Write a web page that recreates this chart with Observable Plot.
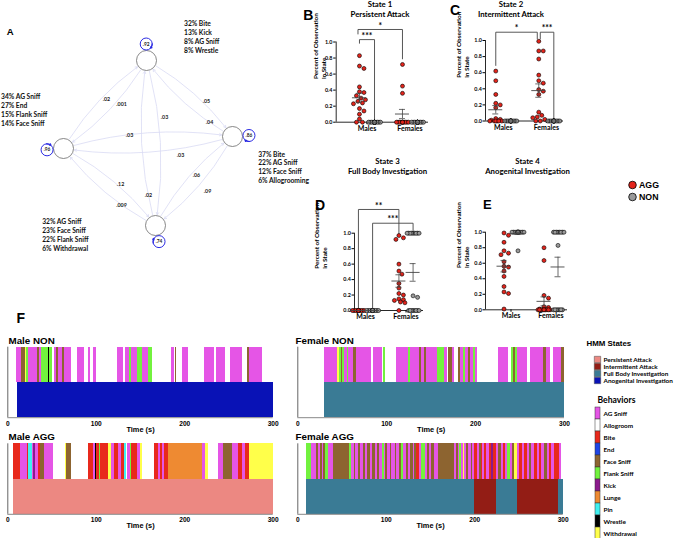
<!DOCTYPE html>
<html><head><meta charset="utf-8">
<script src="https://cdn.jsdelivr.net/npm/d3@7"></script>
<script src="https://cdn.jsdelivr.net/npm/@observablehq/plot@0.6"></script>
<style>
body{margin:0;background:#fff;}
#fig{position:relative;width:682px;height:538px;overflow:hidden;background:#fff;}
.abs{position:absolute;}
.abs svg{overflow:visible;}
.lbl{position:absolute;white-space:nowrap;color:#000;}
</style></head><body><div id="fig"></div>
<script>
// ================= DATA =================
const groups = ["Males", "Females"];
const conditions = ["AGG", "NON"];
const conditionColors = ["#e3241b", "#9a9a9a"];

// Panel B – State 1 Persistent Attack
const s1MalesAgg = [0.83,0.70,0.67,0.44,0.38,0.37,0.33,0.30,0.28,0.26,0.24,0.23,0.17,0.14,0.10,0.04,0,0];
const s1MalesNon = [0,0,0,0,0,0,0,0,0,0,0,0,0,0,0];
const s1FemalesAgg = [0.72,0.45,0.36,0,0,0,0,0,0,0,0,0,0,0,0];
const s1FemalesNon = [0,0,0,0,0,0,0,0,0,0,0,0,0,0,0];
// Panel C – State 2 Intermittent Attack
const s2MalesAgg = [0.62,0.50,0.33,0.22,0.20,0.165,0.03,0.02,0.01,0,0,0,0,0,0];
const s2MalesNon = [0,0,0,0,0,0,0,0,0,0,0,0,0,0,0];
const s2FemalesAgg = [0.99,0.87,0.87,0.77,0.57,0.50,0.47,0.39,0.37,0.33,0.11,0.07,0.05,0.04,0.02,0,0];
const s2FemalesNon = [0,0,0,0,0,0,0,0,0,0,0,0,0,0,0];
// Panel D – State 3 Full Body Investigation
const s3MalesAgg = [0,0,0,0,0,0,0,0,0,0,0,0,0,0];
const s3MalesNon = [0,0,0,0,0,0,0,0,0,0,0,0,0,0,0];
const s3FemalesAgg = [0.97,0.94,0.92,0.60,0.51,0.47,0.35,0.29,0.22,0.20,0.15,0.14,0.13,0.11,0.10,0];
const s3FemalesNon = [1,1,1,1,1,1,1,1,1,0.19,0.17,0,0,0,0,0,0,0,0];
// Panel E – State 4 Anogenital Investigation
const s4MalesAgg = [0.99,0.96,0.87,0.76,0.73,0.71,0.62,0.56,0.55,0.50,0.43,0.30,0.23,0.21,0.01];
const s4MalesNon = [1,1,1,1,1,1,1,1,1,1,1,1,1,1,1,0.76];
const s4FemalesAgg = [0.80,0.635,0.185,0.15,0.04,0.03,0.01,0,0,0,0,0,0,0,0,0,0];
const s4FemalesNon = [1,1,1,1,1,1,1,1,0.83,0,0,0,0,0,0,0];

const yTicks = [0, 0.2, 0.4, 0.6, 0.8, 1.0];
const stateTitles = [["State 1","Persistent Attack"],["State 2","Intermittent Attack"],["State 3","Full Body Investigation"],["State 4","Anogenital Investigation"]];

// HMM states & behaviours
const hmmStates = ["Persistent Attack","Intermittent Attack","Full Body Investigation","Anogenital Investigation"];
const hmmCodes = ["PA","IA","FB","AN"];
const hmmColors = ["#ec8882","#931d15","#3a7b95","#0912b6"];
const behaviors = ["AG Sniff","Allogroom","Bite","End","Face Sniff","Flank Sniff","Kick","Lunge","Pin","Wrestle","Withdrawal"];
const behaviorCodes = ["AG","AL","BI","EN","FA","FL","KI","LU","PI","WR","WI"];
const behaviorColors = ["#e555e6","#ffffff","#e8291c","#1f45e5","#8d6430","#72f23e","#8b1a8c","#ee8a32","#40f0f0","#000000","#ffff4a"];

// Network (panel A)
const netSelfProb = [0.92, 0.86, 0.74, 0.96];
const netComposition = [
  ["32% Bite","13% Kick","8% AG Sniff","8% Wrestle"],
  ["37% Bite","22% AG Sniff","12% Face Sniff","6% Allogrooming"],
  ["32% AG Sniff","23% Face Sniff","22% Flank Sniff","6% Withdrawal"],
  ["34% AG Sniff","27% End","15% Flank Sniff","14% Face Sniff"]];
const netEdgeFrom = [3,0,0,1,0,2,3,1,2,1,3,2];
const netEdgeTo   = [0,3,1,0,2,0,1,3,1,2,2,3];
const netEdgeProb = [0.02,0.001,0.05,0.04,0.03,0.02,0.03,0.03,0.06,0.09,0.12,0.009];

// Timelines (panel F): [start s, end s, code]
const maleNonBehaviors = [[10,16,"AG"],[16,20,"FA"],[20,21.5,"WI"],[21.5,23,"FL"],[23,34,"AG"],[34,36,"FA"],[36,38,"AG"],[38,45.6,"FL"],[45.6,47.1,"WR"],[47.1,50,"FL"],[52.8,54.7,"AG"],[54.7,57.7,"FA"],[57.7,61.5,"AG"],[61.5,63.7,"FA"],[63.7,71.6,"AG"],[78.4,86.3,"AG"],[90.8,93.9,"AG"],[96.5,100.3,"AG"],[124.4,130.8,"AG"],[133,137.6,"AG"],[137.6,139.8,"FL"],[139.8,146.2,"AG"],[146.2,152.6,"FL"],[152.6,158.7,"AG"],[158.7,163.6,"FL"],[185,188.8,"AG"],[189.6,191.1,"FA"],[197.8,204.6,"AG"],[222.7,234,"AG"],[235.9,246.1,"AG"],[252.1,265.7,"AG"],[270.9,273.2,"FA"],[273.2,287.5,"AG"]];
const maleNonStates = [[10.6,300,"AN"]];
const maleAggBehaviors = [[7,14.4,"BI"],[14.4,21.9,"AG"],[21.9,23.8,"BI"],[23.8,27.5,"PI"],[27.5,29.4,"AG"],[29.4,31.3,"KI"],[31.3,35.1,"AG"],[35.1,37,"BI"],[37,41.9,"FA"],[41.9,52,"AG"],[65.2,66.4,"WI"],[66.4,72,"FA"],[90.8,97.2,"BI"],[97.2,99.1,"AG"],[99.1,100.6,"WR"],[100.6,103.7,"BI"],[103.7,104.8,"FL"],[104.8,114.2,"BI"],[114.2,117.2,"WI"],[117.2,121,"AG"],[121,125.5,"BI"],[125.5,128.5,"AG"],[128.5,132.3,"BI"],[132.3,133.8,"PI"],[135.3,138.3,"AG"],[138.3,139.8,"FL"],[139.8,146.2,"BI"],[146.2,150,"AG"],[150,151.9,"WI"],[166.2,170.7,"BI"],[170.7,172.6,"AG"],[172.6,174.5,"BI"],[174.5,177.5,"AG"],[177.5,181.3,"BI"],[181.3,219.7,"LU"],[219.7,223.5,"AG"],[223.5,227.2,"WI"],[238.5,244.2,"AG"],[244.2,253.6,"FA"],[253.6,261.1,"AG"],[261.1,264.9,"BI"],[264.9,268.7,"AG"],[268.7,273.6,"BI"],[273.6,300,"WI"]];
const maleAggStates = [[7,300,"PA"]];
const femaleNonBehaviors = [[30.4,44.3,"AG"],[44.3,46.9,"WI"],[46.9,49.2,"FL"],[49.2,50.7,"FA"],[50.7,52.9,"FL"],[52.9,55.5,"AG"],[55.5,57.4,"FL"],[57.4,63,"AG"],[63,66,"FA"],[66,82.9,"AG"],[85.5,95.6,"AG"],[96.8,98.7,"FL"],[111,124.9,"AG"],[124.9,126.8,"FL"],[126.8,136.9,"AG"],[136.9,139.1,"FA"],[139.1,142.9,"AG"],[142.9,144.4,"FA"],[144.4,156.8,"AG"],[156.8,165,"FL"],[165,168,"AG"],[169.9,173.6,"FA"],[173.6,176.6,"AG"],[180.4,183,"FA"],[183,186.8,"AG"],[186.8,188.6,"FL"],[188.6,191.6,"AG"],[191.6,194.3,"FA"],[194.3,198,"AG"],[198,199.9,"FL"],[199.9,201.8,"AG"],[225.4,237.4,"AG"],[240.4,243,"FL"],[243,244.9,"FA"],[244.9,246.8,"FL"],[246.8,258,"AG"],[261.8,276.8,"AG"],[276.8,279.4,"FA"],[279.4,284.3,"AG"],[288,296.3,"AG"],[296.3,300,"FA"]];
const femaleNonStates = [[30.4,300,"FB"]];
const femaleAggBehaviors = [[9.8,15.4,"FL"],[15.4,20.7,"AG"],[20.7,22.9,"FA"],[22.9,25.5,"AG"],[25.5,27.4,"FA"],[27.4,29.3,"AG"],[29.3,31.5,"FA"],[31.5,34.9,"FL"],[34.9,39.8,"AG"],[39.8,58.5,"FA"],[58.5,60.4,"FL"],[60.4,64.2,"AG"],[64.2,65.7,"FA"],[65.7,68.7,"AG"],[68.7,70.5,"FA"],[70.5,74.3,"AG"],[74.3,76.2,"FA"],[76.2,79.2,"AG"],[79.2,81.8,"FA"],[81.8,84.4,"AG"],[84.4,87.4,"FA"],[87.4,90.4,"AG"],[90.4,91.9,"FA"],[91.9,95.7,"AG"],[95.7,97.9,"FL"],[97.9,99.4,"AG"],[99.4,101.7,"FA"],[101.7,104.3,"AG"],[104.3,106.2,"FA"],[106.2,109.9,"AG"],[109.9,111.8,"FA"],[111.8,114.4,"AG"],[114.4,117.4,"FA"],[117.4,119.3,"FL"],[119.3,123,"AG"],[123,124.9,"FA"],[124.9,127.9,"AG"],[127.9,130.5,"FA"],[130.5,132.4,"AG"],[132.4,134.3,"FA"],[134.3,138,"BI"],[138,139.9,"AG"],[139.9,144.4,"FL"],[144.4,146.7,"AG"],[146.7,149.3,"FA"],[149.3,151.2,"AG"],[151.2,154.2,"FA"],[154.2,158.7,"AG"],[158.7,176.6,"FA"],[176.6,179.3,"AG"],[179.3,181.2,"FA"],[181.2,183,"AG"],[183,184.9,"FL"],[184.9,186.8,"AG"],[186.8,188.7,"WI"],[188.7,190.5,"AG"],[190.5,192.4,"FA"],[192.4,196.2,"AG"],[196.2,198,"FA"],[198,199.9,"AG"],[199.9,202.9,"BI"],[202.9,205.5,"AG"],[205.5,207.4,"FA"],[207.4,209.3,"BI"],[209.3,211.2,"AG"],[211.2,213,"BI"],[213,216.8,"AG"],[216.8,218.7,"BI"],[218.7,221.7,"KI"],[221.7,224.3,"BI"],[224.3,226.9,"AG"],[226.9,229.9,"FA"],[229.9,232.9,"AG"],[232.9,234.8,"BI"],[234.8,237.4,"AG"],[237.4,240.4,"FL"],[240.4,243,"AG"],[243,244.9,"FA"],[244.9,247.9,"WI"],[247.9,250.5,"AG"],[250.5,253.5,"BI"],[253.5,256.2,"AG"],[256.2,259.2,"BI"],[259.2,261.8,"AG"],[261.8,264.4,"FA"],[264.4,267.4,"AG"],[267.4,270.4,"BI"],[270.4,273,"AG"],[273,275.7,"BI"],[275.7,278.7,"AG"],[278.7,281.7,"FA"],[281.7,284.3,"AG"],[284.3,286.9,"BI"],[286.9,289.9,"AG"],[289.9,295.5,"BI"],[295.5,298.5,"AG"]];
const femaleAggStates = [[9.8,200,"FB"],[200,224.3,"IA"],[224.3,247.9,"FB"],[247.9,294.7,"IA"],[294.7,300,"FB"]];
const timeTicks = [0, 100, 200, 300];

// ================= LAYOUT / HELPERS =================
const fig = document.getElementById("fig");
const LATO = "Lato, 'Open Sans', sans-serif";
const ARIAL = "'Liberation Sans', Arial, sans-serif";
function place(node, left, top) {
  const d = document.createElement("div");
  d.className = "abs"; d.style.left = left + "px"; d.style.top = top + "px";
  d.appendChild(node); fig.appendChild(d); return d;
}
function htmlText(txt, left, top, css) {
  const d = document.createElement("div");
  d.className = "lbl"; d.textContent = txt;
  d.style.left = left + "px"; d.style.top = top + "px";
  Object.assign(d.style, css); fig.appendChild(d); return d;
}
const nameOf = {};
behaviorCodes.forEach((c, i) => nameOf[c] = behaviors[i]);
hmmCodes.forEach((c, i) => nameOf[c] = hmmStates[i]);
const fmtP = p => String(p).replace(/^0/, "");

// ---------- Panel A: network ----------
(function () {
  const node = [[146,60],[232,136],[155,225],[63,148]];
  const loopAngle = [-91, -3.5, 77.6, 175.4];
  const loopDist = 16.5, loopR = 6;
  const textAt = [[183.5,22.7],[257.7,153],[41.7,220.7],[0.5,95.7]];
  const labelT = [0.538,0.406,0.627,0.231,0.350,0.184,0.394,0.314,0.549,0.492,0.557,0.324];
  const labelOff = [-2.3,-12.0,-9.0,-4.7,-14.9,-5.4,-8.3,-15.3,-1.7,-17.1,-9.0,-6.5];
  const rad = a => a * Math.PI / 180;
  const loopC = i => [node[i][0] + loopDist * Math.cos(rad(loopAngle[i])), node[i][1] + loopDist * Math.sin(rad(loopAngle[i]))];
  const headAng = i => loopAngle[i] + 180 - 45;
  const loopPt = (i, a) => [loopC(i)[0] + loopR * Math.cos(rad(a)), loopC(i)[1] + loopR * Math.sin(rad(a))];
  const lab = j => {
    const A = node[netEdgeFrom[j]], B = node[netEdgeTo[j]];
    const dx = B[0] - A[0], dy = B[1] - A[1], L = Math.hypot(dx, dy);
    return [A[0] + labelT[j] * dx + labelOff[j] * (-dy / L), A[1] + labelT[j] * dy + labelOff[j] * (dx / L)];
  };
  const E = d3.range(netEdgeProb.length), N = d3.range(4);
  const svg = Plot.plot({
    width: 330, height: 300, marginTop: 0, marginRight: 0, marginBottom: 0, marginLeft: 0,
    x: {domain: [0, 330], range: [0, 330], axis: null},
    y: {domain: [0, 300], range: [0, 300], axis: null},
    style: {background: "transparent", fontFamily: LATO, fontWeight: "bold", overflow: "visible"},
    marks: [
      Plot.arrow(E, {x1: j => node[netEdgeFrom[j]][0], y1: j => node[netEdgeFrom[j]][1],
        x2: j => node[netEdgeTo[j]][0], y2: j => node[netEdgeTo[j]][1],
        bend: 13, insetStart: 11, insetEnd: 11, headLength: 4.5, stroke: "#d9dbf4", strokeWidth: 0.8}),
      Plot.dot(N, {x: i => node[i][0], y: i => node[i][1], r: 10, fill: "white", stroke: "#6a6a6a", strokeWidth: 0.8}),
      Plot.dot(N, {x: i => loopC(i)[0], y: i => loopC(i)[1], r: loopR, fill: "none", stroke: "#2b2be3", strokeWidth: 1}),
      Plot.arrow(N, {x1: i => loopPt(i, headAng(i) - 45)[0], y1: i => loopPt(i, headAng(i) - 45)[1],
        x2: i => loopPt(i, headAng(i))[0], y2: i => loopPt(i, headAng(i))[1], bend: 20, headLength: 3.5, stroke: "#2b2be3", strokeWidth: 1.2}),
      Plot.text(N, {x: i => loopC(i)[0], y: i => loopC(i)[1], text: i => fmtP(netSelfProb[i]), fontSize: 4.8, fill: "#222"}),
      Plot.text(E, {x: j => lab(j)[0], y: j => lab(j)[1], text: j => fmtP(netEdgeProb[j]), fontSize: 5.3, fill: "#222"}),
      Plot.text(N, {x: i => textAt[i][0], y: i => textAt[i][1], text: i => netComposition[i].join("\n"),
        textAnchor: "start", lineAnchor: "top", dy: -3.3, fontSize: 6.7, lineHeight: 1.33, fill: "#111"})
    ]
  });
  place(svg, 0, 0);
})();

// ---------- Dot panels B–E ----------
function spread(values, pxPerY) {
  const step = 1.5, maxOff = 6.5, minDist = 4.3;
  const order = d3.range(values.length).sort((a, b) => d3.descending(values[a], values[b]));
  const cands = [0];
  for (let k = 1; k * step <= maxOff + 1e-9; k++) cands.push(k * step, -k * step);
  const placed = [], off = [];
  for (const i of order) {
    const y = values[i] * pxPerY;
    let chosen = cands.find(c => placed.every(p => Math.hypot(p.x - c, p.y - y) >= minDist));
    if (chosen === undefined) chosen = d3.greatest(cands, c => d3.min(placed, p => Math.hypot(p.x - c, p.y - y)));
    placed.push({x: chosen, y}); off[i] = chosen;
  }
  return off;
}

function dotPanel(cfg) {
  const {left, top, width, height, mt, mb, ml, mr, xdom, cols, brackets, ylabDx} = cfg;
  const fw = width - ml - mr, fh = height - mt - mb;
  const unit = fw / (xdom[1] - xdom[0]);
  const condOff = 0.175;
  const colX = (g, c) => (groups.indexOf(g) + 1) + (c === "AGG" ? -condOff : condOff);
  const pts = [], stats = [];
  for (const col of cols) {
    const cx = colX(col.g, col.c);
    const off = spread(col.v, fh);
    col.v.forEach((v, i) => pts.push({x: cx + off[i] / unit, y: v, c: col.c}));
    const m = d3.mean(col.v);
    const s = d3.deviation(col.v) / Math.sqrt(col.v.length) || 0;
    stats.push({x: cx, mean: m, lo: Math.max(0, m - s), hi: m + s, c: col.c});
  }
  const semStats = stats.filter(s => s.hi - s.lo > 0.005);
  const meanW = 7 / unit, capW = 3 / unit;
  const bpath = [], blab = [];
  brackets.forEach((b, k) => {
    const xa = colX(b.a[0], b.a[1]) + (b.ia || 0) / unit;
    const xb = colX(b.b[0], b.b[1]) - (b.ib || 0) / unit;
    bpath.push({k, x: xa, y: b.ya}, {k, x: xa, y: b.y}, {k, x: xb, y: b.y}, {k, x: xb, y: b.yb});
    blab.push({x: (xa + xb) / 2, y: b.y, t: b.label});
  });
  const svg = Plot.plot({
    width, height, marginTop: mt, marginBottom: mb, marginLeft: ml, marginRight: mr,
    x: {domain: xdom}, y: {domain: [0, 1]},
    style: {background: "transparent", fontFamily: LATO, fontWeight: "bold", overflow: "visible", color: "#000"},
    marks: [
      Plot.ruleX([xdom[0]], {stroke: "#111", strokeWidth: 0.9}),
      Plot.ruleY([0], {stroke: "#111", strokeWidth: 0.9}),
      Plot.axisY({ticks: yTicks, tickFormat: d3.format(".1f"), tickSize: 2.5, tickPadding: 1.2, fontSize: 5.4, label: null}),
      Plot.axisX({ticks: [1, 2], tickFormat: d => groups[d - 1], tickSize: 2.5, tickPadding: 1.2, fontSize: 7, label: null}),
      Plot.text(["Percent of Observation\nin State"], {frameAnchor: "left", rotate: -90, dx: ylabDx, dy: -3, fontSize: 6.4, lineHeight: 1.25}),
      Plot.line(bpath, {x: "x", y: "y", z: "k", stroke: "#444", strokeWidth: 0.9}),
      Plot.text(blab, {x: "x", y: "y", text: "t", dy: -3.5, fontSize: 8.5}),
      Plot.dot(pts, {x: "x", y: "y", r: 2.0, fill: d => conditionColors[conditions.indexOf(d.c)], stroke: "#000", strokeWidth: 0.6}),
      Plot.ruleY(stats, {y: "mean", x1: d => d.x - meanW, x2: d => d.x + meanW, stroke: "#444", strokeWidth: 0.9}),
      Plot.ruleX(semStats, {x: "x", y1: "lo", y2: "hi", stroke: "#444", strokeWidth: 0.8}),
      Plot.ruleY(semStats, {y: "lo", x1: d => d.x - capW, x2: d => d.x + capW, stroke: "#444", strokeWidth: 0.8}),
      Plot.ruleY(semStats, {y: "hi", x1: d => d.x - capW, x2: d => d.x + capW, stroke: "#444", strokeWidth: 0.8})
    ]
  });
  place(svg, left, top);
}
const col = (g, c, v) => ({g, c, v});

dotPanel({left: 290, top: 0, width: 150, height: 135, mt: 41.5, mb: 13.3, ml: 45.7, mr: 12, xdom: [0.284, 2.43], ylabDx: -17,
  cols: [col("Males","AGG",s1MalesAgg), col("Males","NON",s1MalesNon), col("Females","AGG",s1FemalesAgg), col("Females","NON",s1FemalesNon)],
  brackets: [
    {a: ["Males","AGG"], b: ["Males","NON"], y: 1.03, ya: 0.985, yb: 0.03, label: "***"},
    {a: ["Males","AGG"], b: ["Females","AGG"], y: 1.156, ya: 1.10, yb: 0.79, ia: -1.5, label: "*"}]});
dotPanel({left: 440, top: 0, width: 135, height: 135, mt: 40, mb: 14.5, ml: 45, mr: 12, xdom: [0.586, 2.40], ylabDx: -23.5,
  cols: [col("Males","AGG",s2MalesAgg), col("Males","NON",s2MalesNon), col("Females","AGG",s2FemalesAgg), col("Females","NON",s2FemalesNon)],
  brackets: [
    {a: ["Males","AGG"], b: ["Females","AGG"], y: 1.103, ya: 0.69, yb: 1.02, ib: 1.5, label: "*"},
    {a: ["Females","AGG"], b: ["Females","NON"], y: 1.103, ya: 1.02, yb: 0.02, ia: 1.5, label: "***"}]});
dotPanel({left: 290, top: 175, width: 150, height: 148, mt: 57.7, mb: 13, ml: 64, mr: 17, xdom: [0.728, 2.432], ylabDx: -34,
  cols: [col("Males","AGG",s3MalesAgg), col("Males","NON",s3MalesNon), col("Females","AGG",s3FemalesAgg), col("Females","NON",s3FemalesNon)],
  brackets: [
    {a: ["Males","AGG"], b: ["Females","AGG"], y: 1.307, ya: 0.03, yb: 0.97, label: "**"},
    {a: ["Males","NON"], b: ["Females","NON"], y: 1.129, ya: 0.03, yb: 1.035, label: "***"}]});
dotPanel({left: 440, top: 175, width: 135, height: 148, mt: 56.7, mb: 13.7, ml: 45, mr: 8, xdom: [0.3625, 2.4125], ylabDx: -23.5,
  cols: [col("Males","AGG",s4MalesAgg), col("Males","NON",s4MalesNon), col("Females","AGG",s4FemalesAgg), col("Females","NON",s4FemalesNon)],
  brackets: []});

// Titles of B–E
const titleCenters = [[380, -1.5], [511, -1.5], [387.5, 156], [527.5, 156]];
stateTitles.forEach((t, i) => {
  htmlText(t[0] + "\n" + t[1], titleCenters[i][0] - 60, titleCenters[i][1],
    {width: "120px", textAlign: "center", fontFamily: LATO, fontWeight: "bold", fontSize: "7.8px", lineHeight: "10px", whiteSpace: "pre"});
});

// AGG / NON legend
(function () {
  const svg = Plot.plot({
    width: 60, height: 26.8, marginTop: 0, marginBottom: 0, marginLeft: 0, marginRight: 0,
    y: {type: "band", domain: conditions, axis: null},
    style: {background: "transparent", fontFamily: ARIAL, fontWeight: "bold", overflow: "visible"},
    marks: [
      Plot.dot(conditions, {y: d => d, frameAnchor: "left", dx: 12, r: 3.8, fill: d => conditionColors[conditions.indexOf(d)], stroke: "#000", strokeWidth: 0.8}),
      Plot.text(conditions, {y: d => d, frameAnchor: "left", dx: 18.5, textAnchor: "start", fontSize: 8.8, fill: "#000"})
    ]
  });
  place(svg, 620, 176.6);
})();

// ---------- Panel F: timelines ----------
const allNames = behaviors.concat(hmmStates);
const allColors = behaviorColors.concat(hmmColors);
const rows = ["State", "Behavior"];
function timeline(title, beh, states, left, top, height, mt, ml, mr, titleDx, titleDy) {
  const fh = 70.5;
  const svg = Plot.plot({
    width: 281, height, marginTop: mt, marginBottom: height - mt - fh, marginLeft: ml, marginRight: mr,
    x: {domain: [0, 300]}, y: {domain: [0, rows.length], axis: null},
    color: {type: "ordinal", domain: allNames, range: allColors},
    style: {background: "transparent", fontFamily: ARIAL, fontWeight: "bold", overflow: "visible", color: "#000"},
    marks: [
      Plot.rect(states, {x1: d => d[0], x2: d => d[1], y1: rows.indexOf("State"), y2: rows.indexOf("State") + 1, fill: d => nameOf[d[2]], shapeRendering: "crispEdges"}),
      Plot.rect(beh, {x1: d => d[0], x2: d => d[1], y1: rows.indexOf("Behavior"), y2: rows.indexOf("Behavior") + 1, fill: d => nameOf[d[2]], shapeRendering: "crispEdges"}),
      Plot.ruleX([0], {stroke: "#666", strokeWidth: 1}),
      Plot.ruleY([0], {stroke: "#888", strokeWidth: 1}),
      Plot.axisX({ticks: timeTicks, tickSize: 0, tickPadding: 3.5, fontSize: 6.6, label: null}),
      Plot.text(["Time (s)"], {frameAnchor: "bottom", lineAnchor: "middle", dy: 11.8, fontSize: 7.4}),
      Plot.text([title], {frameAnchor: "top-left", lineAnchor: "middle", dx: titleDx, dy: titleDy, textAnchor: "start", fontSize: 9.8})
    ]
  });
  place(svg, left, top);
}
timeline("Male NON", maleNonBehaviors, maleNonStates, 0, 335, 98, 11.7, 7.3, 8.3, 0.7, -6.5);
timeline("Male AGG", maleAggBehaviors, maleAggStates, 0, 431, 107, 12.3, 7.3, 8.3, 0.7, -7.3);
timeline("Female NON", femaleNonBehaviors, femaleNonStates, 290, 335, 98, 11.7, 7.3, 7, -2.3, -6.5);
timeline("Female AGG", femaleAggBehaviors, femaleAggStates, 290, 431, 107, 12.3, 7.3, 8.3, -2.3, -7.3);

// ---------- Legends for F ----------
(function () {
  const svg = Plot.plot({
    width: 102, height: 56, marginTop: 0, marginBottom: 0, marginLeft: 0, marginRight: 0,
    y: {type: "point", domain: hmmStates, range: [19.5, 48.7], axis: null},
    color: {type: "ordinal", domain: hmmStates, range: hmmColors},
    style: {background: "transparent", fontFamily: LATO, fontWeight: "bold", overflow: "visible"},
    marks: [
      Plot.text(["HMM States"], {frameAnchor: "top-left", lineAnchor: "middle", dx: 6, dy: 7.5, textAnchor: "start", fontSize: 7.9, fontFamily: ARIAL}),
      Plot.dot(hmmStates, {y: d => d, frameAnchor: "left", dx: 17, symbol: "square", r: 3.6, fill: d => d, stroke: "#444", strokeWidth: 0.5}),
      Plot.text(hmmStates, {y: d => d, frameAnchor: "left", dx: 23, textAnchor: "start", fontSize: 6.4})
    ]
  });
  place(svg, 580, 335);
})();
(function () {
  const svg = Plot.plot({
    width: 102, height: 143, marginTop: 10, marginBottom: 0, marginLeft: 0, marginRight: 0,
    x: {type: "band", domain: ["swatch"], range: [14.5, 20.3], axis: null, padding: 0},
    y: {type: "band", domain: behaviors, range: [10, 145], padding: 0, axis: null},
    color: {type: "ordinal", domain: behaviors, range: behaviorColors},
    style: {background: "transparent", fontFamily: LATO, fontWeight: "bold", overflow: "visible"},
    marks: [
      Plot.text(["Behaviors"], {frameAnchor: "top-left", lineAnchor: "middle", dx: 17, dy: -5, textAnchor: "start", fontSize: 8.6}),
      Plot.cell(behaviors, {x: () => "swatch", y: d => d, fill: d => d, stroke: "#333", strokeWidth: 0.5}),
      Plot.text(behaviors, {y: d => d, frameAnchor: "left", dx: 23, textAnchor: "start", fontSize: 6.4})
    ]
  });
  place(svg, 580, 395);
})();

// Panel letters
const letters = [["A", 6.7, 26.8, 9.5], ["B", 303.3, 8.1, 14], ["C", 450, 3.1, 14], ["D", 315, 198, 14], ["E", 483, 197.5, 13], ["F", 16.5, 311.4, 14]];
letters.forEach(([t, x, y, fs]) => htmlText(t, x, y, {fontFamily: ARIAL, fontWeight: "bold", fontSize: fs + "px", lineHeight: fs + "px"}));
</script></body></html>
